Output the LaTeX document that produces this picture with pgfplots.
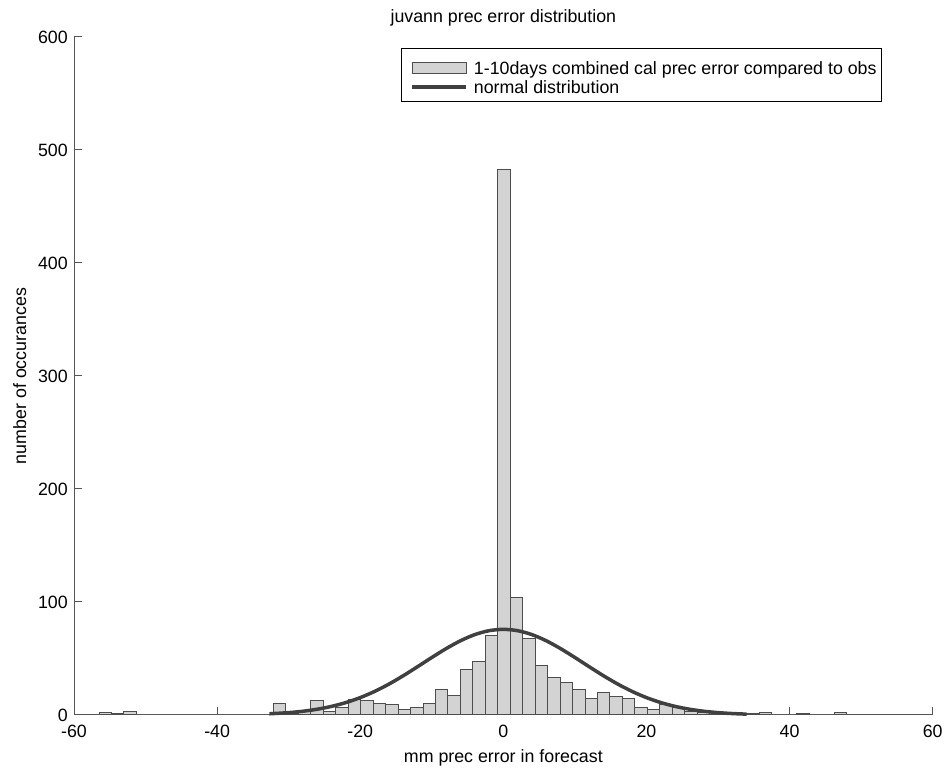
\documentclass[border=0pt]{standalone}
\usepackage{fontspec}
\setmainfont{Liberation Sans}
\usepackage{pgfplots}
\pgfplotsset{compat=1.18}
\definecolor{barfill}{RGB}{211,211,211}
\definecolor{baredge}{RGB}{77,77,77}
\definecolor{curvecol}{RGB}{64,64,64}
\definecolor{axcol}{RGB}{85,85,85}
\begin{document}
\fontsize{17.8pt}{21pt}\selectfont
\begin{tikzpicture}
\useasboundingbox (0,0) rectangle (946pt,769pt);
\begin{axis}[
  at={(74pt,54pt)}, anchor=south west,
  width=858.7pt, height=678pt, scale only axis,
  xmin=-60, xmax=60, ymin=0, ymax=600,
  clip=false,
  axis x line*=bottom, axis y line*=left,
  axis line style={axcol, line width=1pt, -},
  tick style={axcol, line width=1pt},
  tick align=inside, major tick length=8pt,
  xtick={-60,-40,-20,0,20,40,60},
  xticklabels={-60,-40,-20,0,20,40,60},
  ytick={0,100,200,300,400,500,600},
  yticklabels={0,100,200,300,400,500,600},
  xticklabel style={anchor=base, yshift=-23pt},
  yticklabel style={anchor=east, inner sep=0pt, xshift=-6pt},
  every axis title shift=0pt,
  title={juvann prec error distribution},
  title style={at={(axis description cs:0.5,1.0214)}, anchor=base},
  xlabel={mm prec error in forecast},
  xlabel style={at={(axis description cs:0.5,-0.0701)}, anchor=base},
  ylabel={number of occurances},
  ylabel style={at={(axis description cs:-0.0559,0.5)}, anchor=base, rotate=0},
  legend cell align=left,
  legend style={at={(axis description cs:0.941,0.984)}, anchor=north east,
    draw=black, line width=0.8pt, fill=white,
    inner xsep=5pt, inner ysep=8.2pt, row sep=1.5pt, column sep=6pt,
    nodes={inner sep=0pt, text height=17.8pt, text depth=0pt}},
]
\addplot[ybar, bar width=1.7415, fill=barfill, draw=baredge, line width=1pt,
  legend image code/.code={\path[draw=none,fill=none] (0pt,-8.9pt) rectangle (60pt,8.9pt);
    \draw[fill=barfill, draw=baredge, line width=1pt] (6pt,-8.4pt) rectangle (60pt,2.6pt);}]
coordinates {
(-55.63,2) (-53.89,1) (-52.15,3) (-50.40,0) (-48.66,0) (-46.92,0) (-45.18,0)
(-43.44,0) (-41.70,0) (-39.96,0) (-38.21,0) (-36.47,0) (-34.73,0) (-32.99,0)
(-31.25,10) (-29.51,1) (-27.77,4) (-26.02,13) (-24.28,3) (-22.54,7) (-20.80,14)
(-19.06,13) (-17.32,10) (-15.57,9) (-13.83,5) (-12.09,7) (-10.35,10) (-8.61,23)
(-6.87,17) (-5.13,40) (-3.38,47) (-1.64,70) (0.10,483) (1.84,104) (3.58,68)
(5.32,44) (7.06,33) (8.81,29) (10.55,23) (12.29,15) (14.03,20) (15.77,16)
(17.51,15) (19.26,7) (21.00,5) (22.74,9) (24.48,7) (26.22,3) (27.96,2)
(29.70,2) (31.45,2) (33.19,1) (34.93,1) (36.67,2) (38.41,0) (40.15,0)
(41.89,1) (43.64,0) (45.38,0) (47.12,2)
};
\addlegendentry{1-10days combined cal prec error compared to obs}
\addplot[curvecol, line width=3.5pt, smooth, no markers,
  legend image code/.code={\path[draw=none,fill=none] (0pt,-8.9pt) rectangle (60pt,8.9pt);
    \draw[curvecol, line width=3.5pt] (6pt,-2.4pt) -- (60pt,-2.4pt);}]
coordinates {
(-32.7,1.07) (-30,2.10) (-28,3.33) (-26,5.12) (-24,7.63) (-22,11.01) (-20,15.39)
(-18,20.84) (-16,27.32) (-14,34.70) (-12,42.70) (-10,50.88) (-8,58.73) (-6,65.67)
(-4,71.12) (-2,74.60) (0,75.80) (2,74.60) (4,71.12) (6,65.67) (8,58.73)
(10,50.88) (12,42.70) (14,34.70) (16,27.32) (18,20.84) (20,15.39) (22,11.01)
(24,7.63) (26,5.12) (28,3.33) (30,2.10) (32,1.28) (34,0.76)
};
\addlegendentry{normal distribution}
\end{axis}
\end{tikzpicture}
\end{document}
